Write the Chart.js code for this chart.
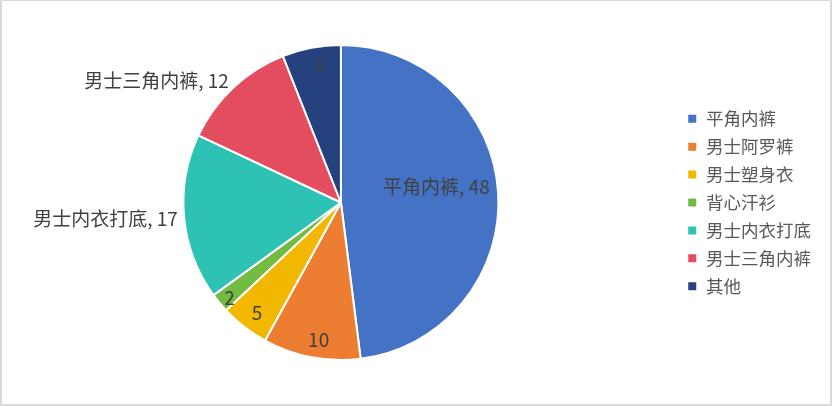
<!DOCTYPE html>
<html>
<head>
<meta charset="utf-8">
<script src="https://cdn.jsdelivr.net/npm/chart.js@4/dist/chart.umd.min.js"></script>
<style>
  html, body { margin: 0; padding: 0; background: #fff; overflow: hidden; }
  #wrap { position: relative; width: 832px; height: 406px; }
  #frame { position: absolute; left: 0; top: 0; width: 832px; height: 406px; box-sizing: border-box;
           border-style: solid; border-color: #d9d9d9; border-width: 1px 2px 2px 2px; pointer-events: none; }
  canvas { position: absolute; left: 0; top: 0; }
</style>
</head>
<body>
<div id="wrap">
  <canvas id="c" width="832" height="406"></canvas>
  <div id="frame"></div>
</div>
<script>
// ---- data ----
const categories = ['平角内裤', '男士阿罗裤', '男士塑身衣', '背心汗衫', '男士内衣打底', '男士三角内裤', '其他'];
const values = [48, 10, 5, 2, 17, 12, 6];
const sliceColors = ['#4472C4', '#ED7D31', '#F2B800', '#74BB42', '#2EC2B4', '#E44C60', '#25427F'];

// ---- label placement (not data) ----
const labelShowName = [true, false, false, false, true, true, false];
const labelOutside  = [false, false, false, false, true, true, false];
const labelRadial   = [0.62, 0.89, 0.89, 0.95, 1.04, 1.04, 0.89];
const labelDx       = [-2, 4, 2, 4, 0, 0, 6];
const labelDy       = [-10, 0, 0, 0, 1, -2, 0];

const labelPlugin = {
  id: 'sliceLabels',
  afterDatasetsDraw(chart) {
    const ctx = chart.ctx;
    const meta = chart.getDatasetMeta(0);
    ctx.save();
    ctx.font = '19px "Noto Sans CJK SC", "Noto Sans", sans-serif';
    ctx.fillStyle = '#404040';
    ctx.textBaseline = 'middle';
    meta.data.forEach((arc, i) => {
      const p = arc.getProps(['x', 'y', 'startAngle', 'endAngle', 'outerRadius'], true);
      const mid = (p.startAngle + p.endAngle) / 2;
      const d = p.outerRadius * labelRadial[i];
      const x = p.x + Math.cos(mid) * d + labelDx[i];
      const y = p.y + Math.sin(mid) * d + labelDy[i];
      const txt = labelShowName[i] ? categories[i] + ', ' + values[i] : String(values[i]);
      if (labelOutside[i]) {
        ctx.textAlign = Math.cos(mid) < 0 ? 'right' : 'left';
      } else {
        ctx.textAlign = 'center';
      }
      ctx.fillText(txt, x, y);
    });
    ctx.restore();
  }
};

new Chart(document.getElementById('c'), {
  type: 'pie',
  data: {
    labels: categories,
    datasets: [{
      data: values,
      backgroundColor: sliceColors,
      borderColor: '#ffffff',
      borderWidth: 2
    }]
  },
  options: {
    responsive: false,
    animation: false,
    layout: { padding: { left: 5, right: 11, top: 44, bottom: 45 } },
    plugins: {
      tooltip: { enabled: false },
      legend: {
        position: 'right',
        labels: {
          boxWidth: 10,
          boxHeight: 10,
          padding: 10.4,
          color: '#595959',
          font: { size: 17.5, family: '"Noto Sans CJK SC", "Noto Sans", sans-serif' }
        }
      }
    }
  },
  plugins: [labelPlugin]
});
</script>
</body>
</html>
